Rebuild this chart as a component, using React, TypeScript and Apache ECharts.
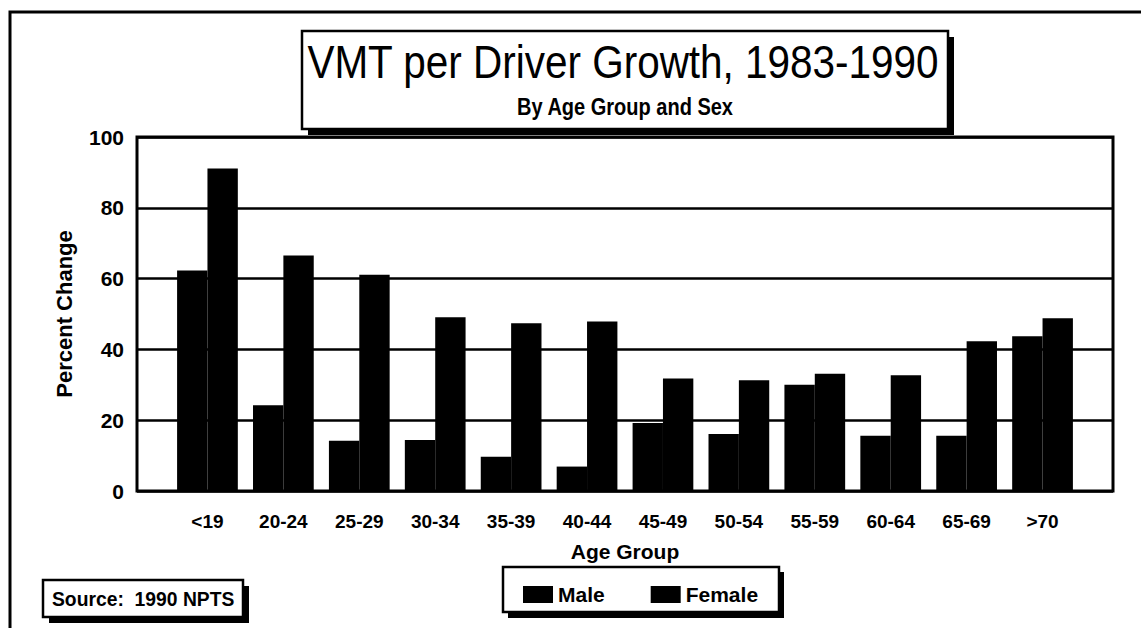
import React, { useEffect, useRef } from "react";
import * as echarts from "echarts";

const categories = ["<19", "20-24", "25-29", "30-34", "35-39", "40-44", "45-49", "50-54", "55-59", "60-64", "65-69", ">70"];
const maleValues = [62.3, 24.2, 14.2, 14.4, 9.7, 6.9, 19.2, 16.1, 30.0, 15.6, 15.6, 43.7];
const femaleValues = [91.1, 66.5, 61.1, 49.1, 47.4, 47.9, 31.8, 31.3, 33.1, 32.7, 42.3, 48.8];
const seriesNames = ["Male", "Female"];
const yMin = 0;
const yMax = 100;
const yInterval = 20;
const titleText = "VMT per Driver Growth, 1983-1990";
const subtitleText = "By Age Group and Sex";
const sourceText = "Source:  1990 NPTS";
const yAxisName = "Percent Change";
const xAxisName = "Age Group";

const FONT = '"Liberation Sans", Arial, Helvetica, sans-serif';

export default function App() {
  const ref = useRef<HTMLDivElement>(null);
  useEffect(() => {
    if (!ref.current) return;
    const chart = echarts.init(ref.current, null, { renderer: "svg" });
    const option: any = {
      animation: false,
      backgroundColor: "#ffffff",
      textStyle: { fontFamily: FONT, color: "#000" },
      grid: [
        { left: 137, top: 137, width: 976, height: 354, show: true, borderColor: "#000", borderWidth: 3, backgroundColor: "transparent", z: 1 },
        { left: 169.5, top: 137, width: 911, height: 354, show: false },
      ],
      xAxis: [
        { type: "value", gridIndex: 0, show: false, min: 0, max: 1 },
        {
          type: "category",
          gridIndex: 1,
          data: categories,
          axisLine: { show: false },
          axisTick: { show: false },
          axisLabel: { color: "#000", fontSize: 19, fontWeight: "bold", margin: 21, fontFamily: FONT },
          name: xAxisName,
          nameLocation: "middle",
          nameGap: 50,
          nameTextStyle: { color: "#000", fontSize: 21, fontWeight: "bold", fontFamily: FONT },
        },
      ],
      yAxis: [
        {
          type: "value",
          gridIndex: 0,
          min: yMin,
          max: yMax,
          interval: yInterval,
          axisLine: { show: false },
          axisTick: { show: false },
          axisLabel: { color: "#000", fontSize: 21, fontWeight: "bold", margin: 13, fontFamily: FONT },
          splitLine: { show: true, lineStyle: { color: "#000", width: 2.5 } },
          name: yAxisName,
          nameLocation: "middle",
          nameGap: 62,
          nameTextStyle: { color: "#000", fontSize: 22, fontWeight: "bold", fontFamily: FONT },
        },
        { type: "value", gridIndex: 1, min: yMin, max: yMax, interval: yInterval, show: false, splitLine: { show: false } },
      ],
      legend: {
        data: seriesNames,
        left: 518,
        top: 579,
        icon: "rect",
        itemWidth: 30,
        itemHeight: 17,
        itemGap: 46,
        textStyle: { color: "#000", fontSize: 21, fontWeight: "bold", fontFamily: FONT },
        z: 20,
      },
      series: [
        {
          name: seriesNames[0],
          type: "bar",
          xAxisIndex: 1,
          yAxisIndex: 1,
          data: maleValues,
          itemStyle: { color: "#000" },
          barGap: "0%",
          barCategoryGap: "20%",
          z: 3,
        },
        {
          name: seriesNames[1],
          type: "bar",
          xAxisIndex: 1,
          yAxisIndex: 1,
          data: femaleValues,
          itemStyle: { color: "#000" },
          barGap: "0%",
          barCategoryGap: "20%",
          z: 3,
        },
      ],
      graphic: [
        { type: "rect", z: 0, silent: true, shape: { x: 10, y: 12, width: 1300, height: 800 }, style: { fill: "none", stroke: "#000", lineWidth: 3 } },
        { type: "rect", z: 10, silent: true, shape: { x: 308, y: 37, width: 646, height: 98 }, style: { fill: "#000" } },
        { type: "rect", z: 11, silent: true, shape: { x: 302, y: 31, width: 646, height: 98 }, style: { fill: "#fff", stroke: "#000", lineWidth: 2.5 } },
        { type: "text", z: 12, x: 623, y: 62, scaleX: 0.88, style: { text: titleText, fontSize: 46, fontFamily: FONT, fill: "#000", align: "center", verticalAlign: "middle" } },
        { type: "text", z: 12, x: 625, y: 107, scaleX: 0.87, style: { text: subtitleText, fontSize: 23, fontWeight: "bold", fontFamily: FONT, fill: "#000", align: "center", verticalAlign: "middle" } },
        { type: "rect", z: 10, silent: true, shape: { x: 508, y: 572, width: 276, height: 46 }, style: { fill: "#000" } },
        { type: "rect", z: 11, silent: true, shape: { x: 503, y: 567, width: 276, height: 45 }, style: { fill: "#fff", stroke: "#000", lineWidth: 2.5 } },
        { type: "rect", z: 10, silent: true, shape: { x: 49, y: 586, width: 200, height: 37 }, style: { fill: "#000" } },
        { type: "rect", z: 11, silent: true, shape: { x: 43, y: 580, width: 200, height: 37 }, style: { fill: "#fff", stroke: "#000", lineWidth: 2.5 } },
        { type: "text", z: 12, x: 52, y: 599, scaleX: 0.92, style: { text: sourceText, fontSize: 21, fontWeight: "bold", fontFamily: FONT, fill: "#000", align: "left", verticalAlign: "middle" } },
      ],
    };
    chart.setOption(option);
    return () => chart.dispose();
  }, []);
  return <div ref={ref} style={{ position: "absolute", left: 0, top: 0, width: 1141, height: 628 }} />;
}
